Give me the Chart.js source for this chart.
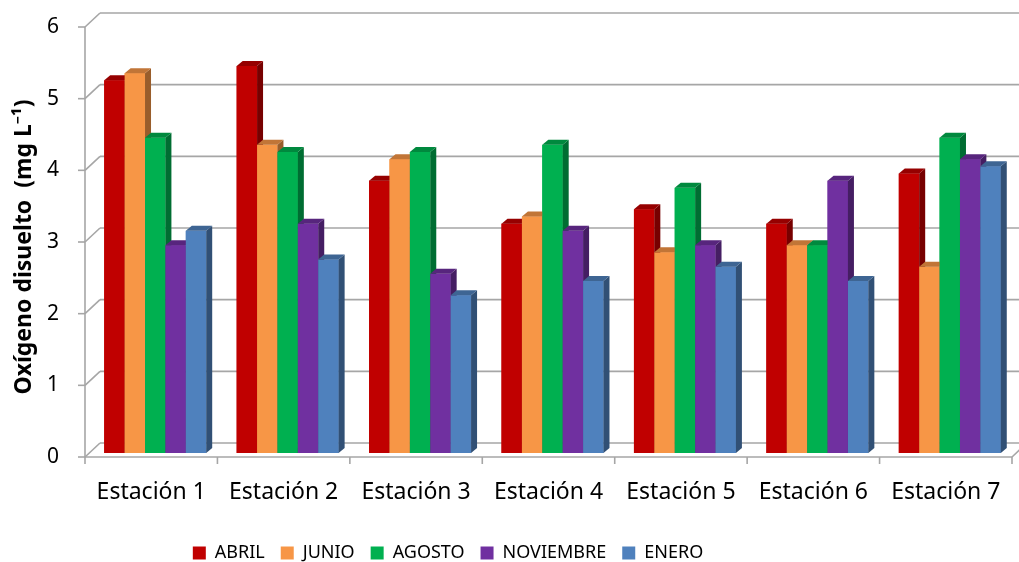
<!DOCTYPE html>
<html lang="es">
<head>
<meta charset="utf-8">
<title>Oxígeno disuelto por estación</title>
<script src="https://cdn.jsdelivr.net/npm/chart.js@4.4.1/dist/chart.umd.min.js"></script>
<style>
    html, body { margin: 0; padding: 0; background: #ffffff; }
    #wrap { width: 1019px; height: 562px; position: relative; }
</style>
</head>
<body>
<div id="wrap"><canvas id="graficoOxigeno"></canvas></div>
<script>
const estaciones = ['Estación 1', 'Estación 2', 'Estación 3', 'Estación 4', 'Estación 5', 'Estación 6', 'Estación 7'];
const abril = [5.2, 5.4, 3.8, 3.2, 3.4, 3.2, 3.9];
const junio = [5.3, 4.3, 4.1, 3.3, 2.8, 2.9, 2.6];
const agosto = [4.4, 4.2, 4.2, 4.3, 3.7, 2.9, 4.4];
const noviembre = [2.9, 3.2, 2.5, 3.1, 2.9, 3.8, 4.1];
const enero = [3.1, 2.7, 2.2, 2.4, 2.6, 2.4, 4.0];
const ticksY = [0, 1, 2, 3, 4, 5, 6];

const FUENTE = "'Noto Sans', 'Open Sans', sans-serif";
const GRIS = '#a6a6a6';

// desplazamientos de la pared frontal y del fondo respecto al plano de las barras
const FRENTE = { dx: -4, dy: 4 };
const FONDO = { dx: 11, dy: -10 };
const PROF = { dx: 6, dy: 5 };

function oscurecer(hex, f) {
    const n = parseInt(hex.slice(1), 16);
    const r = Math.round(((n >> 16) & 255) * f);
    const g = Math.round(((n >> 8) & 255) * f);
    const b = Math.round((n & 255) * f);
    return `rgb(${r},${g},${b})`;
}

function linea(ctx, x1, y1, x2, y2) {
    ctx.beginPath();
    ctx.moveTo(x1, y1);
    ctx.lineTo(x2, y2);
    ctx.stroke();
}

const paredes = {
    id: 'paredes',
    afterLayout(chart) {
        // la leyenda queda algo desplazada a la izquierda del centro
        if (chart.legend) {
            chart.legend.right -= 120;
        }
    },
    beforeDatasetsDraw(chart) {
        const { ctx, chartArea, scales } = chart;
        const y = scales.y;
        const left = chartArea.left;
        const right = chartArea.right;
        ctx.save();
        ctx.strokeStyle = GRIS;
        ctx.lineWidth = 1.6;
        ticksY.forEach(function (v) {
            const py = y.getPixelForValue(v);
            linea(ctx, left + FONDO.dx, py + FONDO.dy, right + FONDO.dx, py + FONDO.dy);
            linea(ctx, left + FRENTE.dx, py + FRENTE.dy, left + FONDO.dx, py + FONDO.dy);
            linea(ctx, left + FRENTE.dx - 7, py + FRENTE.dy, left + FRENTE.dx, py + FRENTE.dy);
        });
        const top = y.getPixelForValue(6);
        const base = y.getPixelForValue(0);
        linea(ctx, left + FRENTE.dx, top + FRENTE.dy, left + FRENTE.dx, base + FRENTE.dy + 7);
        linea(ctx, left + FRENTE.dx, base + FRENTE.dy, right + FRENTE.dx, base + FRENTE.dy);
        linea(ctx, right + FRENTE.dx, base + FRENTE.dy, right + FONDO.dx, base + FONDO.dy);
        const ancho = (right - left) / estaciones.length;
        for (let i = 1; i <= estaciones.length; i++) {
            const px = left + FRENTE.dx + i * ancho;
            linea(ctx, px, base + FRENTE.dy, px, base + FRENTE.dy + 7);
        }
        ctx.restore();
    },
    afterDatasetsDraw(chart) {
        const { ctx } = chart;
        const metas = chart.data.datasets.map(function (_, i) { return chart.getDatasetMeta(i); });
        ctx.save();
        // cada barra se pinta completa antes de la siguiente para que tape la cara lateral anterior
        for (let c = 0; c < estaciones.length; c++) {
            metas.forEach(function (meta, d) {
                const bar = meta.data[c];
                const color = chart.data.datasets[d].backgroundColor;
                const x0 = bar.x - bar.width / 2;
                const x1 = bar.x + bar.width / 2;
                const yt = bar.y;
                const yb = bar.base;
                ctx.fillStyle = color;
                ctx.fillRect(x0, yt, x1 - x0, yb - yt);
                ctx.fillStyle = oscurecer(color, 0.62);
                ctx.beginPath();
                ctx.moveTo(x1, yt);
                ctx.lineTo(x1 + PROF.dx, yt - PROF.dy);
                ctx.lineTo(x1 + PROF.dx, yb - PROF.dy);
                ctx.lineTo(x1, yb);
                ctx.closePath();
                ctx.fill();
                ctx.fillStyle = oscurecer(color, 0.78);
                ctx.beginPath();
                ctx.moveTo(x0, yt);
                ctx.lineTo(x0 + PROF.dx, yt - PROF.dy);
                ctx.lineTo(x1 + PROF.dx, yt - PROF.dy);
                ctx.lineTo(x1, yt);
                ctx.closePath();
                ctx.fill();
            });
        }
        ctx.restore();
    }
};

function serie(label, data, color) {
    return {
        label: label,
        data: data,
        backgroundColor: color,
        borderWidth: 0,
        categoryPercentage: 0.77,
        barPercentage: 1.0
    };
}

new Chart(document.getElementById('graficoOxigeno'), {
    type: 'bar',
    data: {
        labels: estaciones,
        datasets: [
            serie('ABRIL', abril, '#c00000'),
            serie('JUNIO', junio, '#f79646'),
            serie('AGOSTO', agosto, '#00b050'),
            serie('NOVIEMBRE', noviembre, '#7030a0'),
            serie('ENERO', enero, '#4f81bd')
        ]
    },
    options: {
        responsive: true,
        maintainAspectRatio: false,
        animation: false,
        layout: { padding: { left: 0, right: 3, top: 23, bottom: -10 } },
        scales: {
            x: {
                grid: { display: false },
                border: { display: false },
                ticks: {
                    color: '#000000',
                    font: { family: FUENTE, size: 23 },
                    padding: 18,
                    labelOffset: -4,
                    maxRotation: 0
                },
                afterFit(scale) {
                    scale.height = 75;
                    scale.paddingLeft = 0;
                    scale.paddingRight = 0;
                }
            },
            y: {
                min: 0,
                max: 6,
                grid: { display: false },
                border: { display: false },
                ticks: {
                    stepSize: 1,
                    color: '#000000',
                    font: { family: FUENTE, size: 21 },
                    padding: 22,
                    labelOffset: 4
                },
                title: {
                    display: true,
                    text: 'Oxígeno disuelto  (mg L⁻¹)   ',
                    color: '#000000',
                    font: { family: FUENTE, size: 23, weight: 'bold' },
                    padding: { top: 11, bottom: 0 }
                },
                afterFit(scale) {
                    scale.width = 89;
                    scale.paddingTop = 0;
                    scale.paddingBottom = 0;
                }
            }
        },
        plugins: {
            legend: {
                position: 'bottom',
                labels: {
                    color: '#000000',
                    font: { family: FUENTE, size: 18 },
                    boxWidth: 13,
                    boxHeight: 13,
                    padding: 16
                }
            },
            tooltip: { enabled: false }
        }
    },
    plugins: [paredes]
});
</script>
</body>
</html>
